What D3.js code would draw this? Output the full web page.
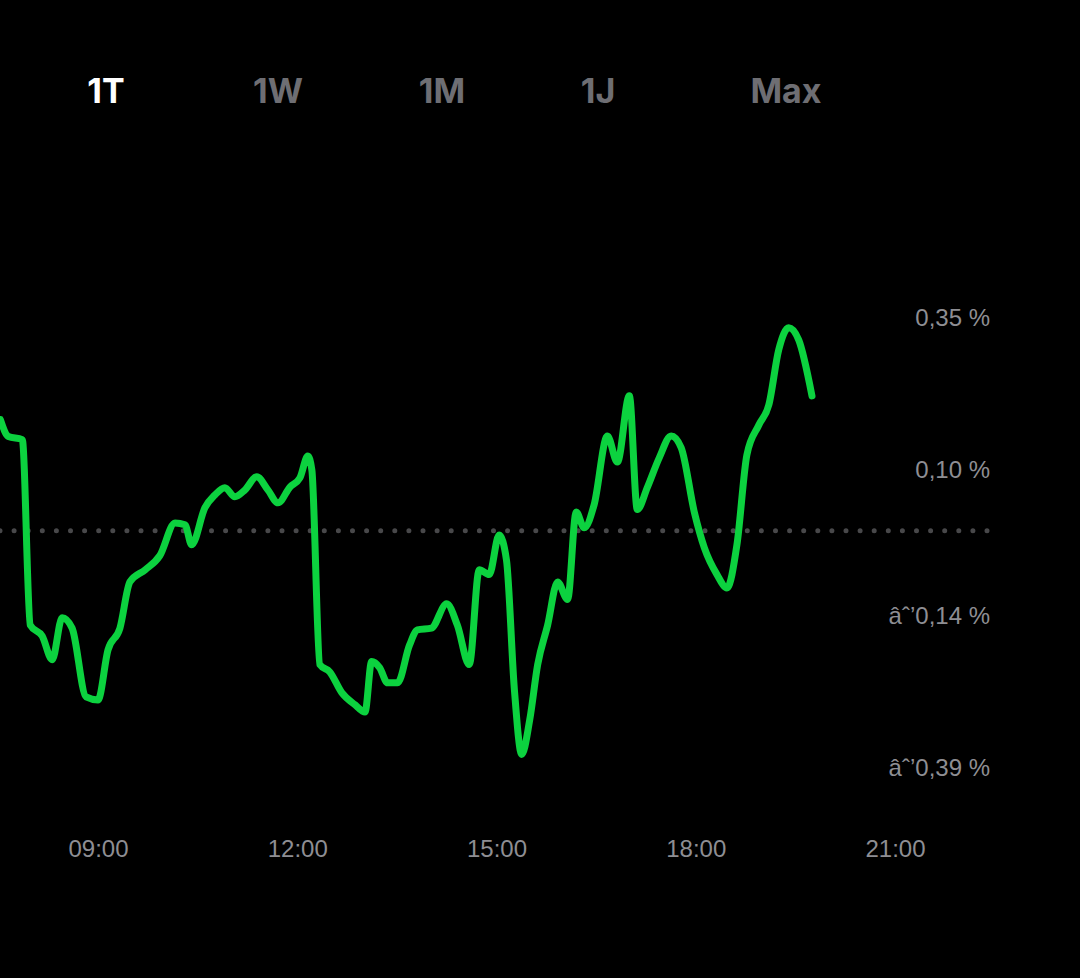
<html>
<head>
<script src="https://cdn.jsdelivr.net/npm/d3@7"></script>
<style>
body { margin:0; background:#000; font-family:"Inter","Roboto",sans-serif; }
.tab { font-size:34px; font-weight:700; fill:#6e6e73; }
.tab.on { fill:#fff; }
.tick text { fill:#8e8e93; font-size:24px; }
</style>
</head>
<body>
<svg id="chart" width="1080" height="978"></svg>
<script>
// tabs
var tabs = ["1T", "1W", "1M", "1J", "Max"]
var tabX = [106, 278, 442, 598, 786]
// time in hours, change in %
var hours = [7.53,7.65,7.86,7.98,8.16,8.31,8.46,8.61,8.82,9.0,9.15,9.33,9.48,9.71,9.93,10.16,10.31,10.41,10.61,10.76,10.91,11.06,11.21,11.39,11.56,11.71,11.89,12.04,12.16,12.22,12.34,12.49,12.67,12.87,13.02,13.12,13.24,13.36,13.51,13.69,13.81,14.02,14.25,14.41,14.59,14.74,14.89,15.04,15.15,15.27,15.38,15.50,15.62,15.77,15.92,16.07,16.20,16.32,16.47,16.67,16.82,17.00,17.12,17.27,17.45,17.63,17.78,17.98,18.13,18.32,18.47,18.62,18.77,18.95,19.10,19.25,19.40,19.55,19.75]
var values = [0.183,0.155,0.150,-0.155,-0.173,-0.212,-0.143,-0.160,-0.273,-0.278,-0.196,-0.160,-0.084,-0.064,-0.041,0.013,0.010,-0.023,0.038,0.059,0.071,0.056,0.067,0.089,0.067,0.046,0.072,0.087,0.123,0.100,-0.220,-0.232,-0.266,-0.286,-0.298,-0.215,-0.225,-0.250,-0.250,-0.188,-0.163,-0.160,-0.120,-0.155,-0.220,-0.064,-0.072,-0.007,-0.048,-0.262,-0.368,-0.311,-0.220,-0.155,-0.084,-0.113,0.031,0.005,0.043,0.156,0.113,0.222,0.035,0.071,0.120,0.156,0.137,0.030,-0.028,-0.072,-0.094,-0.023,0.125,0.174,0.207,0.298,0.334,0.314,0.222]
var xTicks = [9, 12, 15, 18, 21]
var yTicks = [0.35, 0.10, -0.14, -0.39]

var svg = d3.select("#chart")
svg.selectAll(".tab").data(tabs).enter().append("text")
    .attr("class", function(d, i){ return i == 0 ? "tab on" : "tab" })
    .attr("x", function(d, i){ return tabX[i] }).attr("y", 103)
    .attr("text-anchor", "middle").text(function(d){ return d })

var x = d3.scaleLinear().domain([9, 21]).range([98, 895])
var y = d3.scaleLinear().domain([0.35, -0.39]).range([318, 768])

// dotted baseline
svg.append("line").attr("x1", 0).attr("x2", 990).attr("y1", y(0)).attr("y2", y(0))
    .attr("stroke", "#48484a").attr("stroke-width", 5).attr("stroke-linecap", "round")
    .attr("stroke-dasharray", "0 14.1")

var xAxis = svg.append("g").attr("transform", "translate(0,840)")
    .call(d3.axisBottom(x).tickValues(xTicks).tickSize(0).tickPadding(0)
        .tickFormat(function(d){ return d3.format("02")(d) + ":00" }))
xAxis.select(".domain").remove()
xAxis.selectAll("text").attr("dy", "0.71em")

var yAxis = svg.append("g").attr("transform", "translate(990,0)")
    .call(d3.axisLeft(y).tickValues(yTicks).tickSize(0).tickPadding(0)
        .tickFormat(function(d){ return d3.format(".2f")(d).replace(".", ",").replace("-", "-") + " %" }))
yAxis.select(".domain").remove()

var pts = hours.map(function(h, i){ return [h, values[i]] })
svg.append("path").datum(pts)
    .attr("fill", "none").attr("stroke", "#0cd23f").attr("stroke-width", 7)
    .attr("stroke-linejoin", "round").attr("stroke-linecap", "round")
    .attr("d", d3.line().x(function(d){ return x(d[0]) }).y(function(d){ return y(d[1]) })
        .curve(d3.curveMonotoneX))
</script>
</body>
</html>
